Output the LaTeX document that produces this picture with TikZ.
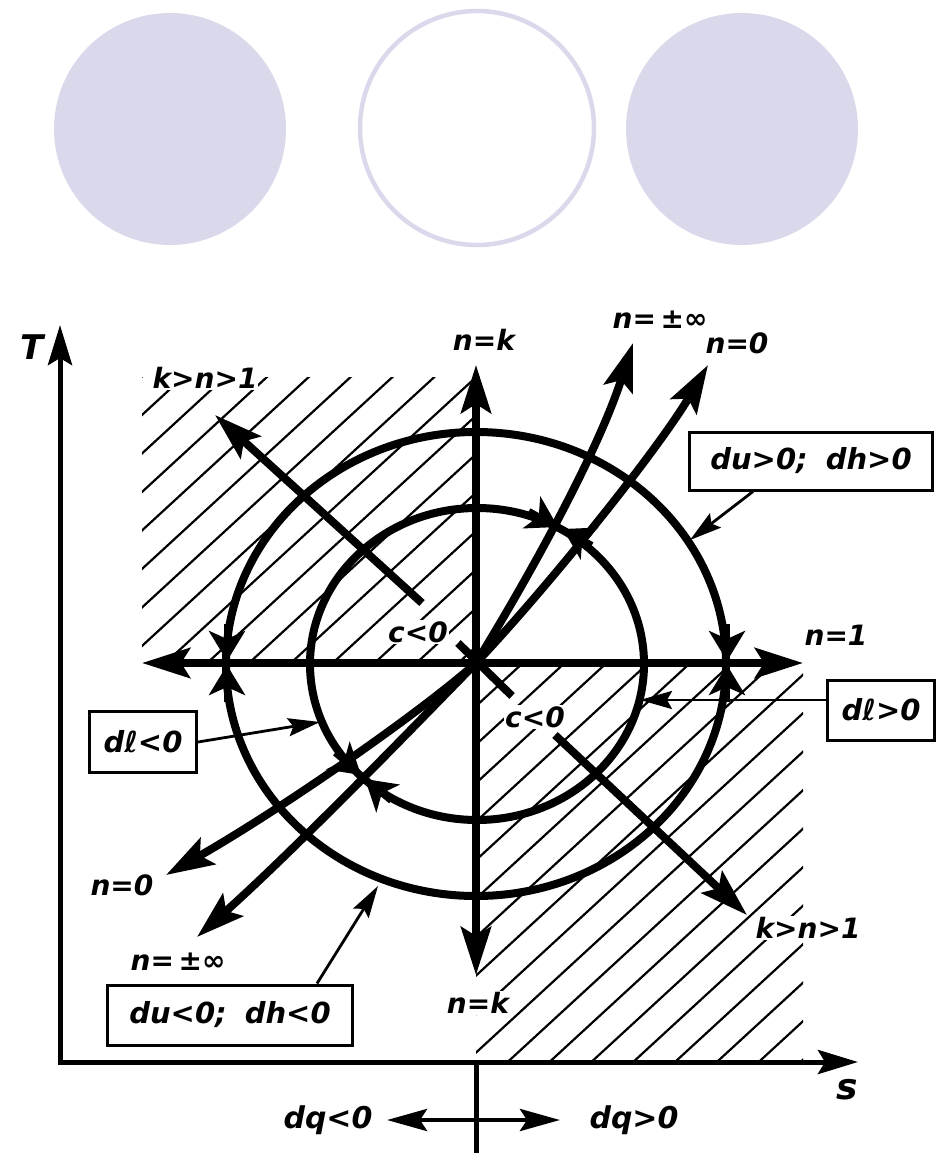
\documentclass[tikz,border=0pt]{standalone}
\usepackage{fontspec}
\setmainfont{DejaVu Sans}
\usetikzlibrary{arrows.meta}
\definecolor{lav}{RGB}{218,217,236}
\begin{document}
\begin{tikzpicture}[x=1pt,y=-1pt,
  lbl/.style={font=\fontsize{28}{32}\selectfont\bfseries\itshape, inner sep=1pt},
  lblw/.style={lbl, fill=white},
  boxlbl/.style={draw, line width=3pt, font=\fontsize{29}{34}\selectfont\bfseries\itshape, inner sep=0pt, fill=white},
  hatch/.style={line width=2.2pt},
  bigtip/.tip={Stealth[length=48pt,width=30pt,inset=9pt]},
  axtip/.tip={Stealth[length=40pt,width=24pt,inset=7pt]},
  thintip/.tip={Stealth[length=32pt,width=18pt,inset=5pt]},
  convtip/.tip={Stealth[length=30pt,width=36pt,inset=8pt]},
  ray/.style={line width=8pt, -bigtip},
  dray/.style={line width=8pt, bigtip-bigtip},
  curve/.style={line width=8pt},
  axis/.style={line width=5pt},
  thinarrow/.style={line width=2.8pt, -thintip},
  conv/.style={line width=6pt, -convtip},
]
\useasboundingbox (0,0) rectangle (937,1156);

% top circles
\fill[lav] (170,129) circle (116);
\draw[lav, line width=4.5pt] (477,128) circle (117);
\fill[lav] (742,129) circle (116);

% hatching
\begin{scope}
\clip (142,377) rectangle (476,663);
\foreach \k in {-1,...,16} \draw[hatch] (0,{545.6+38.5*\k}) -- (1000,{545.6+38.5*\k-920});
\end{scope}
\begin{scope}
\clip (476,663) rectangle (803,1062);
\foreach \k in {-12,...,8} \draw[hatch] (0,{1529+38.5*\k}) -- (1000,{1529+38.5*\k-920});
\end{scope}

% coordinates
\coordinate (O) at (476,663);
\coordinate (HL) at (142,663);
\coordinate (HR) at (803,663);
\coordinate (VT) at (476,365);
\coordinate (VB) at (476,975);
\coordinate (Ttop) at (60,325);
\coordinate (Tbot) at (60,1062);
\coordinate (Sr) at (858,1062);
\coordinate (Ax) at (476,1062);
\coordinate (Ab) at (476,1153);
\coordinate (DqL) at (387,1120);
\coordinate (DqR) at (560,1120);

% labels (white background where needed)
\node[lbl, font=\fontsize{34}{40}\selectfont\bfseries\itshape] (lT) at (32,347) {T};
\node[lbl, font=\fontsize{36}{40}\selectfont\bfseries\itshape] (ls) at (847,1090) {s};
\node[lblw] (lk1) at (205,378) {k>n>1};
\node[lbl] (lnk1) at (484,340) {n=k};
\node[lbl] (lninf1) at (660,320) {n=\,±∞};
\node[lbl] (ln01) at (737,343) {n=0};
\node[lbl] (ln1) at (836,635) {n=1};
\node[lblw] (lc1) at (418,632) {c<0};
\node[lblw] (lc2) at (535,717) {c<0};
\node[lbl] (ln02) at (122,885) {n=0};
\node[lbl] (lninf2) at (178,962) {n=\,±∞};
\node[lblw] (lk2) at (808,928) {k>n>1};
\node[lblw] (lnk2) at (478,1003) {n=k};
\node[lbl, font=\fontsize{30}{36}\selectfont\bfseries\itshape] (dqm) at (328,1120) {dq<0};
\node[lbl, font=\fontsize{30}{36}\selectfont\bfseries\itshape] (dqp) at (634,1120) {dq>0};

% axes
\draw[axis, axtip-axtip] (Ttop) -- (Tbot) -- (Sr);
\draw[axis] (Ax) -- (Ab);
\draw[line width=4.5pt, {Stealth[length=40pt,width=22pt,inset=7pt]}-{Stealth[length=40pt,width=22pt,inset=7pt]}] (DqL) -- (DqR);

% ellipses
\draw[curve] (476,664) ellipse [x radius=250, y radius=232];
\draw[curve] (477,664) ellipse [x radius=167, y radius=156];

% main lines
\draw[dray] (HL) -- (HR);
\draw[dray] (VT) -- (VB);
\draw[ray] (422,603) coordinate (ku0) -- (215,415) coordinate (ku1);
\draw[ray] (555,735) coordinate (kl0) -- (747,915) coordinate (kl1);
\draw[curve] (458,643) -- (512,696);
\draw[ray] (O) .. controls (530,575) and (598,452) .. (633,343);
\draw[ray] (O) .. controls (430,710) and (300,845) .. (197,937);
\draw[ray] (O) .. controls (547,588) and (658,450) .. (708,365);
\draw[ray] (O) .. controls (420,713) and (280,810) .. (166,875);

% converging arrowheads on circles
\draw[conv] (227,624) -- (227,661);
\draw[conv] (227,702) -- (227,665);
\draw[conv] (727,624) -- (727,661);
\draw[conv] (727,702) -- (727,665);
\draw[conv] (529,511) -- (558,527);
\draw[conv] (592,545) -- (563,529);
\draw[conv] (391,801) -- (365,779);
\draw[conv] (335,753) -- (361,775);

% boxes
\node[boxlbl, minimum width=243pt, minimum height=58pt] (bU) at (811,461) {du>0;\hspace{18pt}dh>0};
\node[boxlbl, minimum width=245pt, minimum height=60pt] (bD) at (230,1015) {du<0;\hspace{18pt}dh<0};
\node[boxlbl, minimum width=107pt, minimum height=61pt] (bLm) at (143,742) {dℓ<0};
\node[boxlbl, minimum width=107pt, minimum height=60pt] (bLp) at (881,710) {dℓ>0};

\coordinate (tU) at (690,540);
\coordinate (tD) at (378,886);
\coordinate (tLm) at (320,722);
\coordinate (tLp) at (640,700);
\draw[thinarrow] ([xshift=-58pt]bU.south) -- (tU);
\draw[thinarrow] ([xshift=87pt]bD.north) -- (tD);
\draw[thinarrow] (bLm.east) -- (tLm);
\draw[thinarrow] ([yshift=10pt]bLp.west) -- (tLp);
\end{tikzpicture}
\end{document}
